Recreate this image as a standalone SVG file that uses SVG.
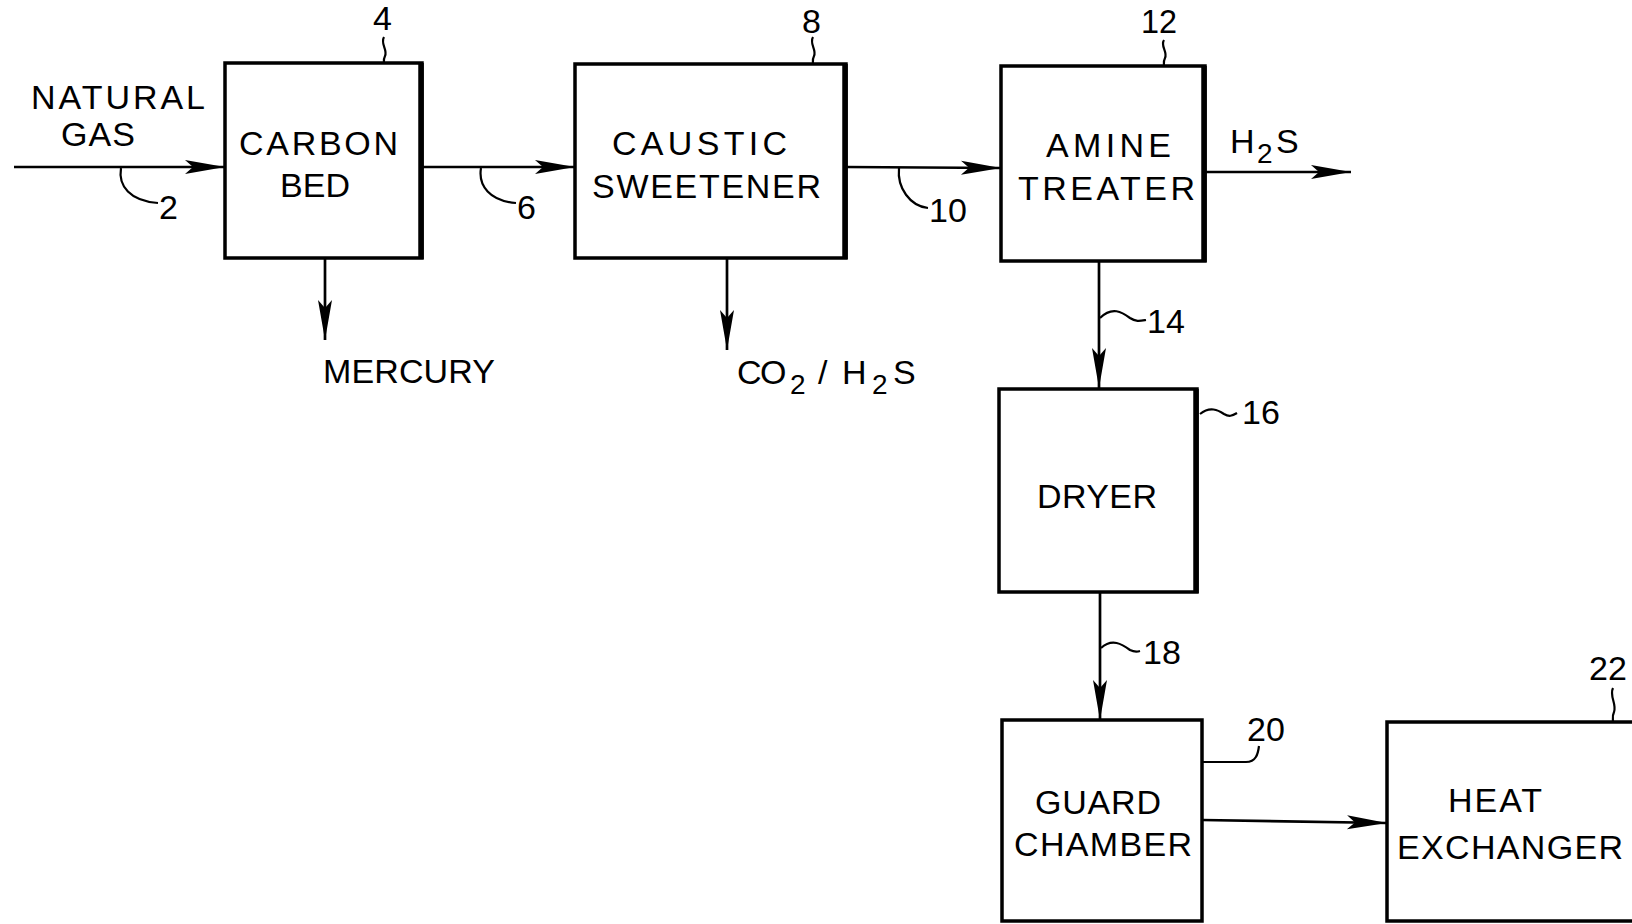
<svg xmlns="http://www.w3.org/2000/svg" width="1632" height="924" viewBox="0 0 1632 924">
<style>
  .box { fill: #fff; stroke: #000; stroke-width: 3.5; }
  .edge { stroke: #000; stroke-width: 5.5; fill: none; }
  .flow { stroke: #000; stroke-width: 2.7; fill: none; }
  .lead { stroke: #000; stroke-width: 2.2; fill: none; }
  text { font-family: "Liberation Sans", Arial, sans-serif; fill: #000; }
  .lbl { font-size: 34px; }
  .num { font-size: 34px; }
  .sub { font-size: 28px; }
</style>
<defs>
  <marker id="arr" viewBox="-42 -8 43 16" refX="0" refY="0" markerWidth="43" markerHeight="16" markerUnits="userSpaceOnUse" orient="auto">
    <path d="M0,0 L-40,-7 L-32,0 L-40,7 Z" fill="#000"/>
  </marker>
</defs>
<rect width="1632" height="924" fill="#fff"/>

<g id="connectors">
  <line class="flow" x1="14" y1="167" x2="225" y2="167" marker-end="url(#arr)"/>
  <line class="flow" x1="422" y1="167" x2="575" y2="167" marker-end="url(#arr)"/>
  <line class="flow" x1="846" y1="167" x2="1001" y2="168" marker-end="url(#arr)"/>
  <line class="flow" x1="1205" y1="172" x2="1351" y2="172" marker-end="url(#arr)"/>
  <line class="flow" x1="325" y1="258" x2="325" y2="340" marker-end="url(#arr)"/>
  <line class="flow" x1="727" y1="258" x2="727" y2="350" marker-end="url(#arr)"/>
  <line class="flow" x1="1099" y1="261" x2="1099" y2="388" marker-end="url(#arr)"/>
  <line class="flow" x1="1100" y1="592" x2="1100" y2="720" marker-end="url(#arr)"/>
  <line class="flow" x1="1202" y1="820" x2="1387" y2="823" marker-end="url(#arr)"/>
</g>

<g id="leaders">
  <path class="lead" d="M121,168 C118,186 130,201 158,203"/>
  <path class="lead" d="M481,168 C478,186 490,201 516,203"/>
  <path class="lead" d="M899,168 C897,188 910,206 928,208"/>
  <path class="lead" d="M384,37 C380,44 388,50 385,56 C383,60 384,62 384,64"/>
  <path class="lead" d="M813,37 C809,44 817,50 814,56 C812,60 813,62 813,64"/>
  <path class="lead" d="M1164,40 C1160,46 1168,52 1165,58 C1163,62 1164,64 1164,66"/>
  <path class="lead" d="M1100,318 C1112,306 1122,312 1130,318 C1136,322 1140,321 1146,320"/>
  <path class="lead" d="M1200,414 C1210,406 1218,410 1224,414 C1229,417 1232,416 1237,413"/>
  <path class="lead" d="M1101,648 C1112,638 1122,644 1130,650 C1134,652 1137,652 1140,651"/>
  <path class="lead" d="M1203,762 L1246,762 C1256,762 1258,754 1259,746"/>
  <path class="lead" d="M1613,688 C1609,696 1617,704 1614,712 C1612,716 1613,719 1613,722"/>
</g>

<g id="carbon-bed">
  <rect class="box" x="225" y="63" width="197" height="195"/>
  <line class="edge" x1="421" y1="63" x2="421" y2="259"/>
  <text class="lbl" x="239" y="155" textLength="159" lengthAdjust="spacing">CARBON</text>
  <text class="lbl" x="280" y="197" textLength="70" lengthAdjust="spacing">BED</text>
  <text class="num" x="373" y="30">4</text>
</g>

<g id="caustic-sweetener">
  <rect class="box" x="575" y="64" width="271" height="194"/>
  <line class="edge" x1="845" y1="64" x2="845" y2="259"/>
  <text class="lbl" x="612" y="155" textLength="175" lengthAdjust="spacing">CAUSTIC</text>
  <text class="lbl" x="592" y="198" textLength="229" lengthAdjust="spacing">SWEETENER</text>
  <text class="num" x="802" y="33">8</text>
</g>

<g id="amine-treater">
  <rect class="box" x="1001" y="66" width="204" height="195"/>
  <line class="edge" x1="1204" y1="66" x2="1204" y2="262"/>
  <text class="lbl" x="1046" y="157" textLength="125" lengthAdjust="spacing">AMINE</text>
  <text class="lbl" x="1018" y="200" textLength="177" lengthAdjust="spacing">TREATER</text>
  <text class="num" x="1141" y="33" textLength="36" lengthAdjust="spacingAndGlyphs">12</text>
</g>

<g id="dryer">
  <rect class="box" x="999" y="389" width="198" height="203"/>
  <line class="edge" x1="1196" y1="389" x2="1196" y2="593"/>
  <text class="lbl" x="1037" y="508" textLength="120" lengthAdjust="spacing">DRYER</text>
</g>

<g id="guard-chamber">
  <rect class="box" x="1002" y="720" width="200" height="201"/>
  <text class="lbl" x="1035" y="814" textLength="126" lengthAdjust="spacing">GUARD</text>
  <text class="lbl" x="1014" y="856" textLength="178" lengthAdjust="spacing">CHAMBER</text>
</g>

<g id="heat-exchanger">
  <rect class="box" x="1387" y="722" width="260" height="199"/>
  <text class="lbl" x="1448" y="812" textLength="94" lengthAdjust="spacing">HEAT</text>
  <text class="lbl" x="1397" y="859" textLength="226" lengthAdjust="spacing">EXCHANGER</text>
</g>

<g id="labels">
  <text class="lbl" x="31" y="109" textLength="174" lengthAdjust="spacing">NATURAL</text>
  <text class="lbl" x="61" y="146" textLength="74" lengthAdjust="spacing">GAS</text>
  <text class="lbl" x="323" y="383" textLength="172" lengthAdjust="spacing">MERCURY</text>
  <text class="lbl" y="384"><tspan x="737">C</tspan><tspan x="760">O</tspan><tspan class="sub" x="790" y="394">2</tspan><tspan x="818" y="384">/</tspan><tspan x="842">H</tspan><tspan class="sub" x="872" y="394">2</tspan><tspan x="893" y="384">S</tspan></text>
  <text class="lbl" y="153"><tspan x="1230">H</tspan><tspan class="sub" x="1257" y="163">2</tspan><tspan x="1276" y="153">S</tspan></text>
  <text class="num" x="159" y="219">2</text>
  <text class="num" x="517" y="219">6</text>
  <text class="num" x="929" y="222">10</text>
  <text class="num" x="1147" y="333">14</text>
  <text class="num" x="1242" y="424">16</text>
  <text class="num" x="1143" y="664">18</text>
  <text class="num" x="1247" y="741">20</text>
  <text class="num" x="1589" y="680">22</text>
</g>
</svg>
